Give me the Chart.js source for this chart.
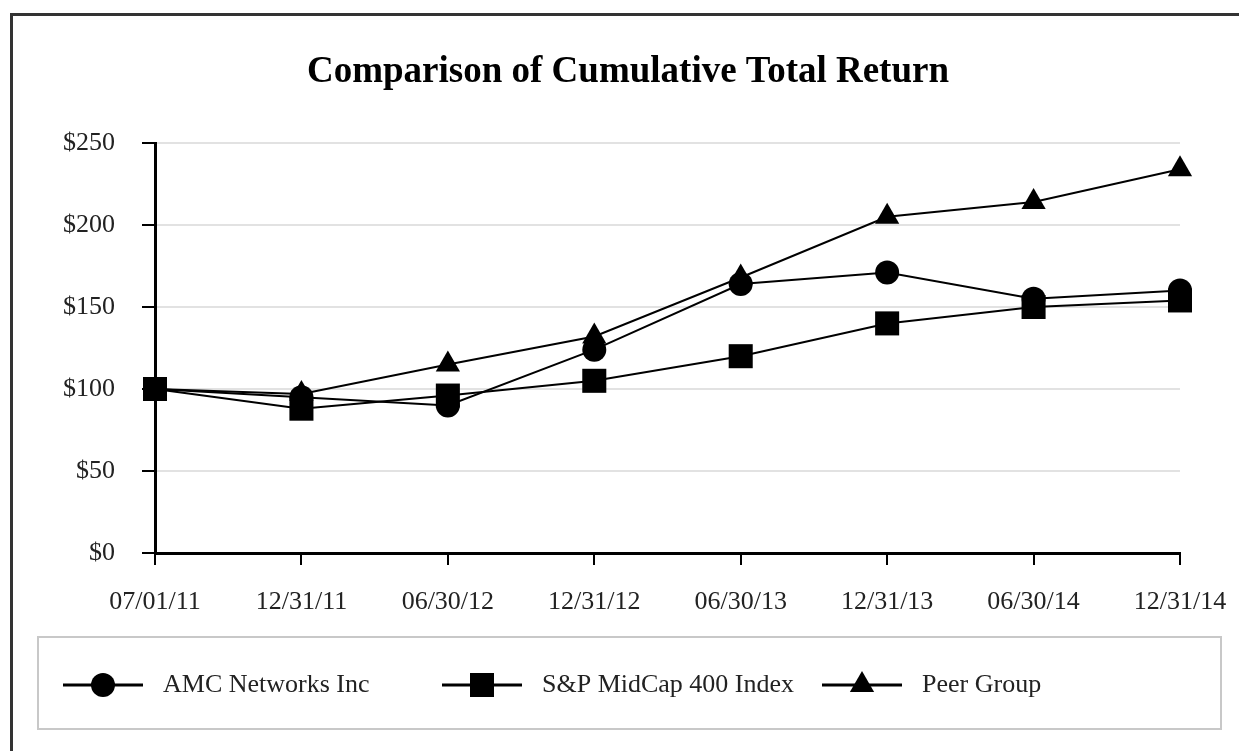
<!DOCTYPE html>
<html>
<head>
<meta charset="utf-8">
<title>Comparison of Cumulative Total Return</title>
<script src="https://cdn.jsdelivr.net/npm/chart.js@4"></script>
<style>
  body { margin: 0; background: #fff; overflow: hidden; }
  #frame {
    position: absolute; left: 10px; top: 13px; width: 1400px; height: 900px;
    border-top: 3px solid #333; border-left: 3px solid #333;
  }
  #wrap { position: absolute; left: 0; top: 0; width: 1239px; height: 751px; }
</style>
</head>
<body>
<div id="frame"></div>
<div id="wrap"><canvas id="returnChart" width="1239" height="751"></canvas></div>
<script>
const labels = ['07/01/11', '12/31/11', '06/30/12', '12/31/12', '06/30/13', '12/31/13', '06/30/14', '12/31/14'];
const amcValues = [100, 95, 90, 124, 164, 171, 155, 160];
const midcapValues = [100, 88, 96, 105, 120, 140, 150, 154];
const peerValues = [100, 97, 115, 132, 168, 205, 214, 234];
const yTicks = [0, 50, 100, 150, 200, 250];
const chartTitle = 'Comparison of Cumulative Total Return';

const serif = "'Liberation Serif', 'Times New Roman', serif";

const series = [
    { label: 'AMC Networks Inc', data: amcValues, pointStyle: 'circle', radius: 12 },
    { label: 'S&P MidCap 400 Index', data: midcapValues, pointStyle: 'rect', radius: 17 },
    { label: 'Peer Group', data: peerValues, pointStyle: 'triangle', radius: 14 }
];

// title and boxed legend are drawn by hand, the plot itself by chart.js
const frameText = {
    id: 'frameText',
    afterDraw(chart) {
        const ctx = chart.ctx;
        ctx.save();
        ctx.fillStyle = '#000';
        ctx.font = 'bold 37px ' + serif;
        ctx.textAlign = 'center';
        ctx.textBaseline = 'middle';
        ctx.fillText(chartTitle, 628, 72);

        ctx.strokeStyle = '#c8c8c8';
        ctx.lineWidth = 2;
        ctx.strokeRect(38, 637, 1183, 92);

        const itemX = [63, 442, 822];
        const y = 685;
        series.forEach((s, i) => {
            const x = itemX[i];
            ctx.strokeStyle = '#000';
            ctx.lineWidth = 3;
            ctx.beginPath();
            ctx.moveTo(x, y);
            ctx.lineTo(x + 80, y);
            ctx.stroke();
            ctx.fillStyle = '#000';
            Chart.helpers.drawPoint(ctx, { pointStyle: s.pointStyle, radius: s.radius, borderWidth: 0 }, x + 40, y);
            ctx.fillStyle = '#222';
            ctx.font = '26px ' + serif;
            ctx.textBaseline = 'middle';
            ctx.textAlign = 'left';
            ctx.fillText(s.label, x + 100, y);
        });
        ctx.restore();
    }
};

new Chart(document.getElementById('returnChart'), {
    type: 'line',
    data: {
        labels: labels,
        datasets: series.map(s => ({
            label: s.label,
            data: s.data,
            borderColor: '#000',
            backgroundColor: '#000',
            borderWidth: 2,
            pointStyle: s.pointStyle,
            pointRadius: s.radius,
            pointBorderWidth: 0,
            pointBackgroundColor: '#000',
            tension: 0
        }))
    },
    options: {
        responsive: false,
        animation: false,
        layout: { padding: { left: 0, right: 59, top: 143, bottom: 0 } },
        plugins: {
            legend: { display: false },
            tooltip: { enabled: false },
            title: { display: false }
        },
        scales: {
            x: {
                offset: false,
                grid: { drawOnChartArea: false, color: '#000', tickColor: '#000', tickLength: 12, lineWidth: 2 },
                border: { color: '#000', width: 3 },
                ticks: { color: '#222', padding: 22, maxRotation: 0, autoSkip: false, font: { family: serif, size: 26 } },
                afterFit(scale) {
                    scale.height = 198;
                    scale.paddingLeft = 0;
                    scale.paddingRight = 0;
                }
            },
            y: {
                min: 0,
                max: 250,
                afterBuildTicks(scale) { scale.ticks = yTicks.map(v => ({ value: v })); },
                grid: { color: '#e2e2e2', lineWidth: 2, tickColor: '#000', tickLength: 13 },
                border: { color: '#000', width: 3 },
                ticks: {
                    color: '#222', padding: 27,
                    font: { family: serif, size: 26 },
                    callback: v => '$' + v
                },
                afterFit(scale) { scale.width = 155; }
            }
        }
    },
    plugins: [frameText]
});
</script>
</body>
</html>
